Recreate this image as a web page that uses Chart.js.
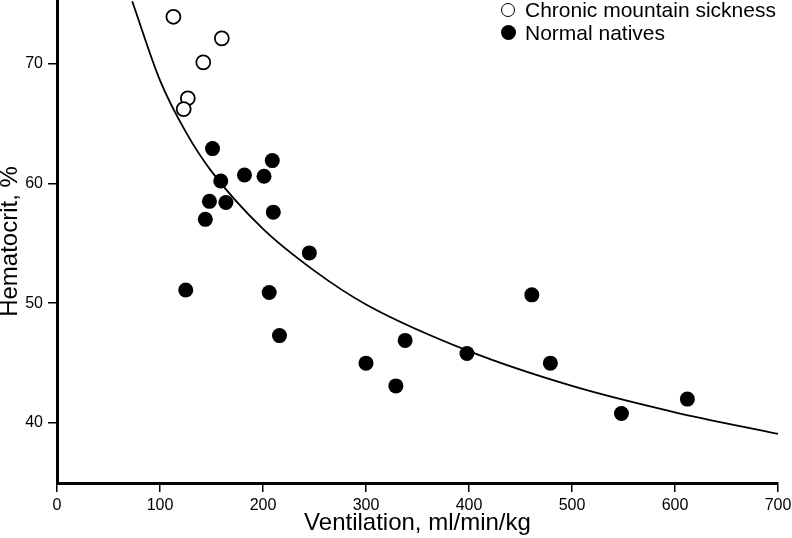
<!DOCTYPE html>
<html lang="en">
<head>
    <meta charset="UTF-8">
    <title>Hematocrit vs Ventilation</title>
    <script src="https://cdn.jsdelivr.net/npm/chart.js"></script>
    <style>
        html, body { margin: 0; padding: 0; background: #fff; }
        .wrap { position: relative; width: 792px; height: 538px; }
        .legend { position: absolute; left: 496px; top: -2px; font-family: 'Liberation Sans', Arial, sans-serif; font-size: 21px; color: #000; line-height: 23px; }
        .legend div { display: flex; align-items: center; }
        .legend .cell { width: 24px; margin-right: 5px; display: flex; justify-content: center; }
        .legend .dot { border-radius: 50%; box-sizing: border-box; }
        .legend .open { width: 14px; height: 14px; border: 1.8px solid #000; background: #fff; }
        .legend .filled { width: 15px; height: 15px; background: #000; }
    </style>
</head>
<body>
    <div class="wrap">
        <canvas id="hctChart"></canvas>
        <div class="legend" id="legend"></div>
    </div>

    <script>
    // values
    const cmsVent = [113, 160, 142, 127, 123];
    const cmsHct  = [73.9, 72.1, 70.1, 67.1, 66.2];

    const normVent = [151, 209, 182, 201, 159, 148, 164, 210, 144, 245, 125, 206, 216, 300, 329, 338, 398, 461, 479, 548, 612];
    const normHct  = [62.9, 61.9, 60.7, 60.6, 60.2, 58.5, 58.4, 57.6, 57.0, 54.2, 51.1, 50.9, 47.3, 45.0, 43.1, 46.9, 45.8, 50.7, 45.0, 40.8, 42.0];

    // fitted curve
    const curveVent = [73, 100, 125, 150, 200, 250, 300, 400, 500, 600, 700];
    const curveHct  = [75.2, 68.6, 64.3, 61.0, 56.2, 52.7, 49.9, 46.0, 43.1, 40.9, 39.1];

    const xTicks = [0, 100, 200, 300, 400, 500, 600, 700];
    const yTicks = [40, 50, 60, 70];

    const labels = ['Chronic mountain sickness', 'Normal natives'];

    const FONT = "'Liberation Sans', Arial, sans-serif";
    const pts = (xs, ys) => xs.map((x, i) => ({ x: x, y: ys[i] }));

    const ctx = document.getElementById('hctChart').getContext('2d');
    const chart = new Chart(ctx, {
        type: 'scatter',
        data: {
            datasets: [
                {
                    label: labels[0],
                    data: pts(cmsVent, cmsHct),
                    pointRadius: 7,
                    pointBackgroundColor: '#fff',
                    pointBorderColor: '#000',
                    pointBorderWidth: 1.8,
                    order: 1
                },
                {
                    label: labels[1],
                    data: pts(normVent, normHct),
                    pointRadius: 7.5,
                    pointBackgroundColor: '#000',
                    pointBorderColor: '#000',
                    pointBorderWidth: 0,
                    order: 2
                },
                {
                    label: 'fit',
                    data: pts(curveVent, curveHct),
                    showLine: true,
                    pointRadius: 0,
                    borderColor: '#000',
                    borderWidth: 1.8,
                    cubicInterpolationMode: 'monotone',
                    order: 3
                }
            ]
        },
        options: {
            responsive: true,
            maintainAspectRatio: false,
            animation: false,
            layout: { autoPadding: false, padding: { top: 0, right: 14, bottom: 0, left: 0 } },
            plugins: {
                legend: { display: false },
                tooltip: { enabled: false }
            },
            scales: {
                x: {
                    type: 'linear',
                    min: 0,
                    max: 700,
                    afterBuildTicks: s => { s.ticks = xTicks.map(v => ({ value: v })); },
                    afterFit: s => { s.height = 55; s.paddingLeft = 0; s.paddingRight = 0; },
                    grid: { display: true, drawOnChartArea: false, drawTicks: true, tickLength: 9, color: '#000', lineWidth: 1.5 },
                    border: { display: true, color: '#000', width: 3 },
                    ticks: { color: '#000', padding: 4, font: { family: FONT, size: 16 } },
                    title: { display: true, text: 'Ventilation, ml/min/kg', color: '#000', padding: { top: 0, bottom: 3 }, font: { family: FONT, size: 24, lineHeight: 1 } }
                },
                y: {
                    min: 35,
                    max: 75.3,
                    afterBuildTicks: s => { s.ticks = yTicks.map(v => ({ value: v })); },
                    afterFit: s => { s.width = 57; s.paddingTop = 0; s.paddingBottom = 0; },
                    grid: { display: true, drawOnChartArea: false, drawTicks: true, tickLength: 9, color: '#000', lineWidth: 1.5 },
                    border: { display: true, color: '#000', width: 3 },
                    ticks: { color: '#000', padding: 5, font: { family: FONT, size: 16 } },
                    title: { display: true, text: 'Hematocrit, %', color: '#000', padding: { top: 0, bottom: 0 }, font: { family: FONT, size: 24, lineHeight: 0.85 } }
                }
            }
        }
    });

    // legend built from the dataset labels
    const legendEl = document.getElementById('legend');
    legendEl.innerHTML =
        '<div><span class="cell"><span class="dot open"></span></span>' + labels[0] + '</div>' +
        '<div><span class="cell"><span class="dot filled"></span></span>' + labels[1] + '</div>';
    </script>
</body>
</html>
